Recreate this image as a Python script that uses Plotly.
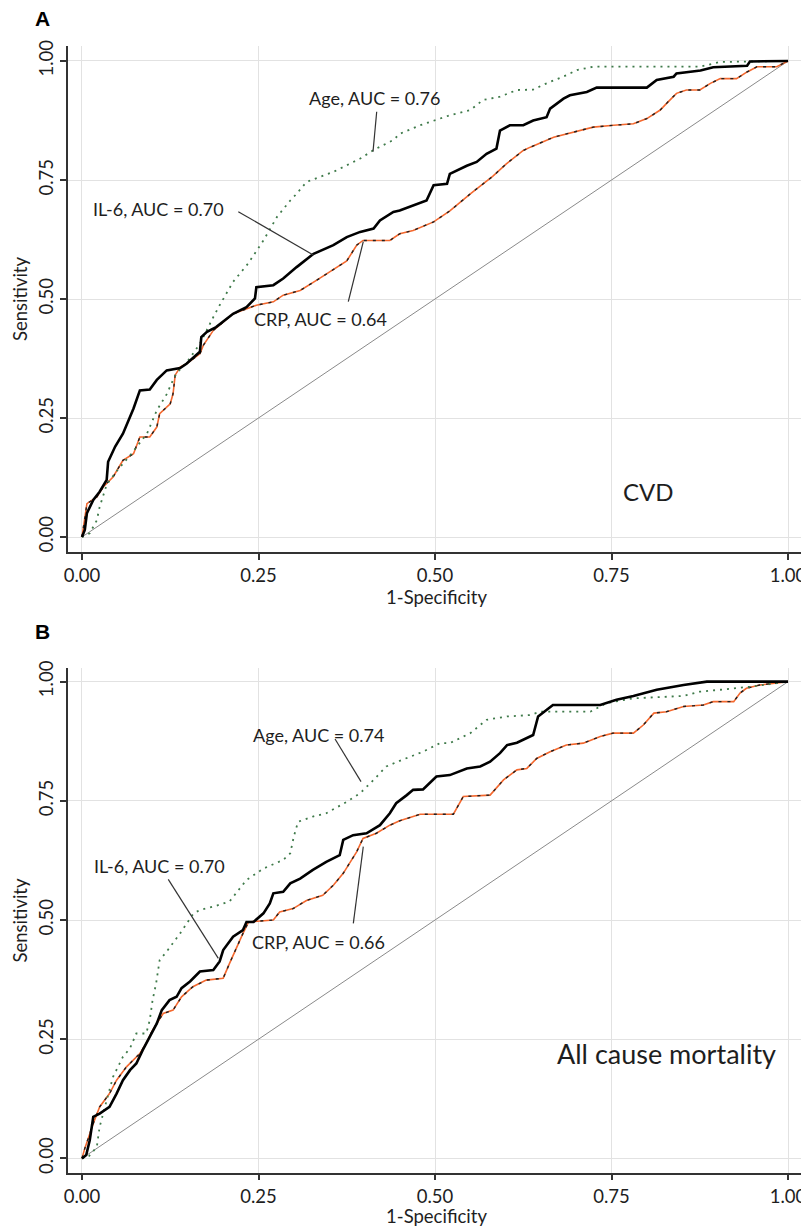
import plotly.graph_objects as go

# ---------------- data ----------------
tick_vals = [0, 0.25, 0.5, 0.75, 1.0]
tick_text = ["0.00", "0.25", "0.50", "0.75", "1.00"]

# Panel A : CVD
a_il6_x = [0, 0.004, 0.007, 0.016, 0.025, 0.035, 0.037, 0.047, 0.058, 0.066, 0.073, 0.082, 0.096, 0.106, 0.12, 0.139, 0.148, 0.167, 0.169, 0.177, 0.19, 0.214, 0.233, 0.245, 0.247, 0.271, 0.285, 0.304, 0.328, 0.356, 0.375, 0.394, 0.413, 0.422, 0.441, 0.45, 0.469, 0.488, 0.498, 0.517, 0.521, 0.545, 0.559, 0.573, 0.587, 0.592, 0.606, 0.625, 0.639, 0.658, 0.663, 0.682, 0.691, 0.715, 0.729, 0.8, 0.814, 0.838, 0.842, 0.876, 0.894, 0.942, 0.946, 1.0]
a_il6_y = [0, 0.015, 0.05, 0.078, 0.095, 0.12, 0.158, 0.19, 0.217, 0.245, 0.27, 0.308, 0.31, 0.33, 0.35, 0.355, 0.364, 0.389, 0.42, 0.431, 0.441, 0.469, 0.483, 0.501, 0.525, 0.529, 0.543, 0.567, 0.595, 0.613, 0.63, 0.641, 0.648, 0.665, 0.683, 0.686, 0.697, 0.707, 0.739, 0.742, 0.763, 0.78, 0.788, 0.805, 0.816, 0.854, 0.865, 0.865, 0.875, 0.882, 0.9, 0.921, 0.928, 0.935, 0.944, 0.944, 0.96, 0.967, 0.974, 0.98, 0.987, 0.99, 0.999, 1.0]

a_age_x = [0, 0.011, 0.021, 0.025, 0.035, 0.05, 0.07, 0.092, 0.106, 0.12, 0.129, 0.134, 0.15, 0.167, 0.186, 0.195, 0.214, 0.235, 0.257, 0.276, 0.295, 0.304, 0.318, 0.337, 0.356, 0.394, 0.413, 0.441, 0.45, 0.479, 0.498, 0.521, 0.55, 0.568, 0.592, 0.616, 0.639, 0.658, 0.686, 0.701, 0.724, 0.875, 0.904, 1.0]
a_age_y = [0, 0.008, 0.035, 0.063, 0.11, 0.14, 0.175, 0.217, 0.266, 0.30, 0.33, 0.344, 0.37, 0.406, 0.462, 0.487, 0.536, 0.574, 0.623, 0.672, 0.707, 0.721, 0.746, 0.756, 0.767, 0.795, 0.813, 0.834, 0.847, 0.865, 0.875, 0.886, 0.897, 0.918, 0.925, 0.939, 0.94, 0.953, 0.97, 0.981, 0.988, 0.988, 0.998, 1.0]

a_crp_x = [0, 0.002, 0.007, 0.021, 0.03, 0.044, 0.058, 0.073, 0.082, 0.096, 0.106, 0.11, 0.125, 0.129, 0.132, 0.139, 0.148, 0.167, 0.172, 0.186, 0.214, 0.247, 0.271, 0.285, 0.309, 0.332, 0.356, 0.375, 0.389, 0.398, 0.436, 0.45, 0.469, 0.498, 0.521, 0.55, 0.582, 0.601, 0.625, 0.635, 0.668, 0.724, 0.753, 0.781, 0.8, 0.819, 0.828, 0.842, 0.856, 0.875, 0.89, 0.904, 0.927, 0.942, 0.956, 0.984, 1.0]
a_crp_y = [0, 0.02, 0.07, 0.084, 0.105, 0.126, 0.161, 0.175, 0.21, 0.21, 0.231, 0.259, 0.28, 0.301, 0.34, 0.357, 0.364, 0.385, 0.403, 0.434, 0.469, 0.487, 0.494, 0.508, 0.518, 0.539, 0.562, 0.58, 0.613, 0.623, 0.623, 0.637, 0.644, 0.662, 0.685, 0.721, 0.758, 0.784, 0.812, 0.819, 0.84, 0.861, 0.865, 0.868, 0.879, 0.897, 0.911, 0.932, 0.939, 0.939, 0.953, 0.963, 0.963, 0.977, 0.988, 0.988, 1.0]

# Panel B : All cause mortality
b_il6_x = [0, 0.006, 0.011, 0.016, 0.025, 0.039, 0.049, 0.058, 0.068, 0.077, 0.086, 0.098, 0.106, 0.113, 0.124, 0.134, 0.141, 0.153, 0.167, 0.186, 0.195, 0.2, 0.214, 0.228, 0.233, 0.243, 0.257, 0.266, 0.271, 0.285, 0.295, 0.309, 0.327, 0.346, 0.365, 0.37, 0.384, 0.403, 0.422, 0.436, 0.445, 0.46, 0.469, 0.483, 0.502, 0.521, 0.545, 0.564, 0.578, 0.592, 0.602, 0.616, 0.639, 0.646, 0.658, 0.667, 0.734, 0.757, 0.781, 0.814, 0.852, 0.885, 1.0]
b_il6_y = [0, 0.007, 0.038, 0.087, 0.094, 0.108, 0.136, 0.164, 0.185, 0.199, 0.227, 0.262, 0.283, 0.311, 0.332, 0.339, 0.357, 0.371, 0.392, 0.395, 0.413, 0.437, 0.465, 0.479, 0.496, 0.496, 0.514, 0.535, 0.556, 0.559, 0.577, 0.587, 0.605, 0.622, 0.636, 0.668, 0.678, 0.682, 0.699, 0.724, 0.745, 0.762, 0.773, 0.774, 0.801, 0.804, 0.818, 0.822, 0.832, 0.85, 0.867, 0.872, 0.888, 0.927, 0.941, 0.951, 0.951, 0.962, 0.97, 0.983, 0.993, 1.0, 1.0]

b_age_x = [0, 0.01, 0.021, 0.025, 0.035, 0.044, 0.058, 0.068, 0.077, 0.091, 0.096, 0.1, 0.105, 0.11, 0.12, 0.139, 0.158, 0.167, 0.186, 0.209, 0.233, 0.257, 0.285, 0.295, 0.3, 0.306, 0.327, 0.346, 0.375, 0.394, 0.413, 0.431, 0.45, 0.483, 0.507, 0.521, 0.55, 0.573, 0.602, 0.635, 0.649, 0.72, 0.743, 0.781, 0.852, 0.875, 0.904, 0.923, 0.951, 0.984, 1.0]
b_age_y = [0, 0.005, 0.024, 0.066, 0.122, 0.171, 0.213, 0.231, 0.262, 0.262, 0.29, 0.332, 0.367, 0.416, 0.434, 0.472, 0.514, 0.521, 0.528, 0.539, 0.584, 0.608, 0.626, 0.64, 0.675, 0.706, 0.717, 0.724, 0.748, 0.766, 0.794, 0.822, 0.834, 0.853, 0.871, 0.871, 0.892, 0.92, 0.927, 0.93, 0.937, 0.937, 0.955, 0.965, 0.97, 0.979, 0.983, 0.986, 0.99, 0.997, 1.0]

b_crp_x = [0, 0.004, 0.016, 0.025, 0.039, 0.049, 0.063, 0.082, 0.091, 0.1, 0.115, 0.129, 0.141, 0.157, 0.176, 0.2, 0.209, 0.219, 0.228, 0.236, 0.271, 0.28, 0.299, 0.318, 0.341, 0.356, 0.37, 0.389, 0.398, 0.417, 0.436, 0.45, 0.479, 0.526, 0.54, 0.578, 0.597, 0.616, 0.63, 0.644, 0.663, 0.686, 0.71, 0.734, 0.752, 0.781, 0.795, 0.81, 0.828, 0.852, 0.88, 0.894, 0.923, 0.932, 0.941, 0.96, 1.0]
b_crp_y = [0, 0.021, 0.073, 0.108, 0.136, 0.164, 0.192, 0.22, 0.241, 0.269, 0.304, 0.311, 0.339, 0.36, 0.374, 0.378, 0.409, 0.444, 0.472, 0.496, 0.5, 0.517, 0.524, 0.541, 0.552, 0.573, 0.598, 0.643, 0.671, 0.682, 0.699, 0.708, 0.722, 0.722, 0.759, 0.762, 0.794, 0.815, 0.818, 0.839, 0.853, 0.867, 0.871, 0.885, 0.892, 0.892, 0.909, 0.934, 0.937, 0.948, 0.951, 0.958, 0.958, 0.976, 0.986, 0.993, 1.0]

# annotation labels: text, (x, y) of text, leader line (x0, y0, x1, y1)
a_labels = ["Age, AUC = 0.76", "IL-6, AUC = 0.70", "CRP, AUC = 0.64"]
a_label_xy = [(0.4136, 0.922), (0.1089, 0.689), (0.3383, 0.4574)]
a_leaders = [(0.4174, 0.8935, 0.4122, 0.8095), (0.2214, 0.6834, 0.3276, 0.5924), (0.3984, 0.6204, 0.3772, 0.4943)]
a_title = ("CVD", 0.802, 0.0966)

b_labels = ["Age, AUC = 0.74", "IL-6, AUC = 0.70", "CRP, AUC = 0.66"]
b_label_xy = [(0.3343, 0.8881), (0.1091, 0.6133), (0.3343, 0.4545)]
b_leaders = [(0.3584, 0.8798, 0.3952, 0.7902), (0.1222, 0.5854, 0.1931, 0.4196), (0.3843, 0.4931, 0.3984, 0.6538)]
b_title = ("All cause mortality", 0.8282, 0.2203)

# ---------------- figure ----------------
# the page body has an 8px margin, so the figure is placed 8px in from the top-left
OX, OY = 8, 8
W, H = 809 - OX, 1227 - OY
FONT = "Lato, 'Open Sans', sans-serif"
TXT = "#1e1e1e"

def px_x(p):
    return (p - OX) / W

def px_y(p):
    return 1 - (p - OY) / H

fig = go.Figure()

def add_panel(xa, ya, il6x, il6y, agex, agey, crpx, crpy):
    kw = dict(xaxis=xa, yaxis=ya, mode="lines", showlegend=False, hoverinfo="skip")
    # reference diagonal
    fig.add_trace(go.Scatter(x=[0, 1], y=[0, 1], line=dict(color="#8a8a8a", width=1), **kw))
    # CRP: orange base with black dashes
    fig.add_trace(go.Scatter(x=crpx, y=crpy, line=dict(color="#f4682e", width=1.6), **kw))
    fig.add_trace(go.Scatter(x=crpx, y=crpy, line=dict(color="#202020", width=1.4, dash="3px,6px"), **kw))
    # Age: dotted green / dark
    fig.add_trace(go.Scatter(x=agex, y=agey, line=dict(color="#3f7a4a", width=1.8, dash="2px,5px"), **kw))
    # IL-6: thick black solid
    fig.add_trace(go.Scatter(x=il6x, y=il6y, line=dict(color="#000000", width=2.6), **kw))

add_panel("x", "y", a_il6_x, a_il6_y, a_age_x, a_age_y, a_crp_x, a_crp_y)
add_panel("x2", "y2", b_il6_x, b_il6_y, b_age_x, b_age_y, b_crp_x, b_crp_y)

ax_common = dict(
    tickvals=tick_vals, ticktext=tick_text,
    showline=True, linecolor="#333333", linewidth=1.5,
    ticks="outside", ticklen=6, tickwidth=1.5, tickcolor="#333333",
    showgrid=True, gridcolor="#e2e2e2", gridwidth=1,
    zeroline=False, mirror=False,
    tickfont=dict(family=FONT, size=18.5, color=TXT),
    title_font=dict(family=FONT, size=18.5, color=TXT),
)

x_dom = [px_x(68), px_x(805)]
xr = [-0.0198, 1.024]
fig.update_layout(
    width=W, height=H,
    margin=dict(l=0, r=0, t=0, b=0, autoexpand=False),
    paper_bgcolor="white", plot_bgcolor="white",
    xaxis=dict(domain=x_dom, range=xr, anchor="y", title=dict(text="1-Specificity", standoff=4), **ax_common),
    yaxis=dict(domain=[px_y(552), px_y(46)], range=[-0.0315, 1.0315], anchor="x",
               tickangle=-90, title=dict(text="Sensitivity", standoff=2), **ax_common),
    xaxis2=dict(domain=x_dom, range=xr, anchor="y2", title=dict(text="1-Specificity", standoff=4), **ax_common),
    yaxis2=dict(domain=[px_y(1172.7), px_y(668.3)], range=[-0.030, 1.028], anchor="x2",
                tickangle=-90, title=dict(text="Sensitivity", standoff=2), **ax_common),
)

annotations = []
shapes = []
for (labels, xy, leaders, title, xr_, yr_, tsize) in [
    (a_labels, a_label_xy, a_leaders, a_title, "x", "y", 24),
    (b_labels, b_label_xy, b_leaders, b_title, "x2", "y2", 27),
]:
    for t, (lx, ly) in zip(labels, xy):
        annotations.append(dict(x=lx, y=ly, xref=xr_, yref=yr_, text=t, showarrow=False,
                                font=dict(family=FONT, size=18, color=TXT)))
    for (x0, y0, x1, y1) in leaders:
        shapes.append(dict(type="line", x0=x0, y0=y0, x1=x1, y1=y1, xref=xr_, yref=yr_,
                           line=dict(color="#333333", width=1.2)))
    annotations.append(dict(x=title[1], y=title[2], xref=xr_, yref=yr_, text=title[0], showarrow=False,
                            font=dict(family=FONT, size=tsize, color=TXT)))

annotations.append(dict(x=px_x(33), y=px_y(19), xref="paper", yref="paper", text="<b>A</b>",
                        showarrow=False, xanchor="left", yanchor="middle",
                        font=dict(family="Liberation Sans, Arial", size=21, color="#000")))
annotations.append(dict(x=px_x(33), y=px_y(631), xref="paper", yref="paper", text="<b>B</b>",
                        showarrow=False, xanchor="left", yanchor="middle",
                        font=dict(family="Liberation Sans, Arial", size=21, color="#000")))

fig.update_layout(annotations=annotations, shapes=shapes)
fig.write_html("out.html")
